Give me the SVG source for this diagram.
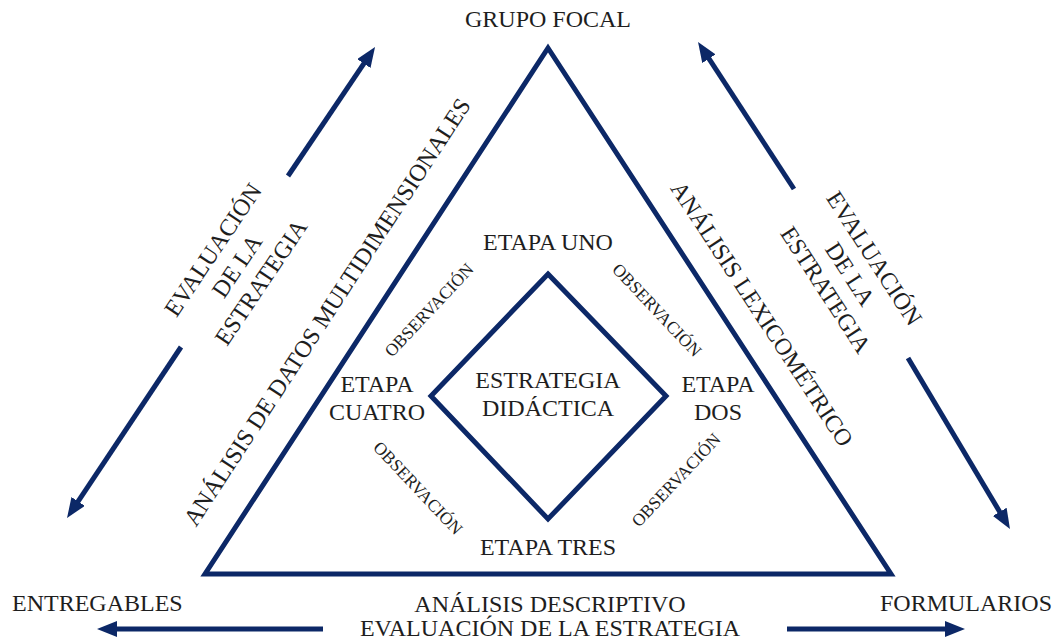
<svg xmlns="http://www.w3.org/2000/svg" width="1052" height="639" viewBox="0 0 1052 639">
  <defs>
    <style>
      .shape { fill: none; stroke: #0c2867; stroke-width: 5; stroke-linejoin: miter; stroke-miterlimit: 10; }
      .arrow { fill: none; stroke: #0c2867; stroke-width: 5; marker-end: url(#head); }
      text { font-family: "Liberation Serif", "Times New Roman", serif; fill: #1e1e1e; text-anchor: middle; }
      .lbl { font-size: 24px; }
      .obs { font-size: 17.5px; }
      .left { text-anchor: start; }
    </style>
    <marker id="head" viewBox="0 0 20 16" refX="6" refY="8" markerWidth="20" markerHeight="16" markerUnits="userSpaceOnUse" orient="auto">
      <path d="M0,0 L20,8 L0,16 Z" fill="#0c2867"/>
    </marker>
  </defs>
  <rect width="1052" height="639" fill="#ffffff"/>

  <!-- outer triangle and central diamond -->
  <g id="triangle">
    <polygon class="shape" points="548,48 891,574 205,574"/>
  </g>
  <g id="estrategia">
    <polygon class="shape" points="548,274 666,396 548,519 431,396"/>
    <text class="lbl" x="548" y="388">ESTRATEGIA</text>
    <text class="lbl" x="548" y="416">DIDÁCTICA</text>
  </g>

  <!-- connectors -->
  <g id="connectors">
    <line class="arrow" x1="288" y1="176" x2="367.2" y2="58.6"/>
    <line class="arrow" x1="181" y1="347" x2="74.8" y2="506.4"/>
    <line class="arrow" x1="794" y1="189" x2="705.7" y2="53.7"/>
    <line class="arrow" x1="908" y1="358" x2="1002.8" y2="517"/>
    <line class="arrow" x1="323" y1="629" x2="111" y2="629"/>
    <line class="arrow" x1="787" y1="629" x2="951" y2="629"/>
  </g>

  <!-- corner labels -->
  <g id="grupo-focal">
    <text class="lbl" x="548" y="27">GRUPO FOCAL</text>
  </g>
  <g id="entregables">
    <text class="lbl left" x="12" y="611">ENTREGABLES</text>
  </g>
  <g id="formularios">
    <text class="lbl left" x="880" y="611">FORMULARIOS</text>
  </g>

  <!-- stages -->
  <g id="etapa-uno">
    <text class="lbl" x="548" y="250">ETAPA UNO</text>
  </g>
  <g id="etapa-dos">
    <text class="lbl" x="718" y="392">ETAPA</text>
    <text class="lbl" x="718" y="420">DOS</text>
  </g>
  <g id="etapa-tres">
    <text class="lbl" x="548" y="555">ETAPA TRES</text>
  </g>
  <g id="etapa-cuatro">
    <text class="lbl" x="377" y="392">ETAPA</text>
    <text class="lbl" x="377" y="420">CUATRO</text>
  </g>

  <!-- observation labels along the diamond -->
  <g id="observaciones">
    <text class="obs" transform="translate(429,310) rotate(-46.7)" y="6">OBSERVACIÓN</text>
    <text class="obs" transform="translate(657,310) rotate(46.7)" y="6">OBSERVACIÓN</text>
    <text class="obs" transform="translate(418,488) rotate(46.7)" y="6">OBSERVACIÓN</text>
    <text class="obs" transform="translate(676,480) rotate(-46.7)" y="6">OBSERVACIÓN</text>
  </g>

  <!-- analysis labels along the triangle sides -->
  <g id="analisis-multidimensional">
    <text class="lbl" transform="translate(327,312) rotate(-56.9)" y="8">ANÁLISIS DE DATOS MULTIDIMENSIONALES</text>
  </g>
  <g id="analisis-lexicometrico">
    <text class="lbl" transform="translate(762,314) rotate(56.7)" y="8">ANÁLISIS LEXICOMÉTRICO</text>
  </g>
  <g id="analisis-descriptivo">
    <text class="lbl" x="550" y="612">ANÁLISIS DESCRIPTIVO</text>
    <text class="lbl" x="550" y="636">EVALUACIÓN DE LA ESTRATEGIA</text>
  </g>

  <!-- evaluation labels beside the side arrows -->
  <g id="evaluacion-izquierda" transform="translate(237,266) rotate(-56)">
    <text class="lbl" y="-21">EVALUACIÓN</text>
    <text class="lbl" y="8">DE LA</text>
    <text class="lbl" y="37">ESTRATEGIA</text>
  </g>
  <g id="evaluacion-derecha" transform="translate(850,274) rotate(57)">
    <text class="lbl" y="-21">EVALUACIÓN</text>
    <text class="lbl" y="8">DE LA</text>
    <text class="lbl" y="37">ESTRATEGIA</text>
  </g>
</svg>
